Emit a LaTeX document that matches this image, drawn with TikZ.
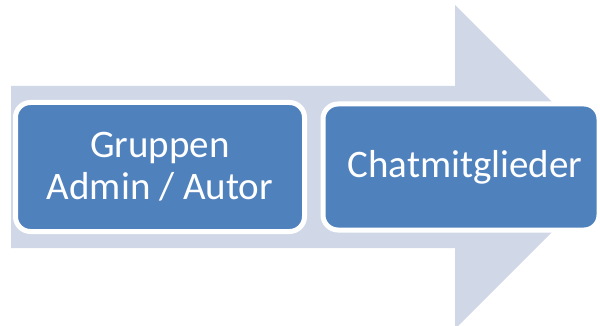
\documentclass[tikz,border=0pt]{standalone}
\usepackage{fontspec}
\setmainfont{Carlito}
\definecolor{arrowfill}{HTML}{D0D8E8}
\definecolor{boxblue}{HTML}{4F81BD}
\tikzset{
  stagebox/.style={draw=white, line width=5pt, fill=boxblue, rounded corners=15pt,
    inner sep=0pt, align=center, text=white,
    font=\fontsize{39pt}{42pt}\selectfont},
}
\begin{document}
\begin{tikzpicture}[x=1pt,y=-1pt]
\useasboundingbox (0,0) rectangle (600,326);
\clip (0,0) rectangle (600,326);
\fill[arrowfill] (11,86) -- (455,86) -- (455,5) -- (617,167) -- (455,329) -- (455,248) -- (11,248) -- cycle;
\node[stagebox, minimum width=289pt, minimum height=129pt] (admin) at (160,167) {Gruppen\\Admin / Autor};
\node[stagebox, minimum width=276pt, minimum height=126pt] (chat) at (461,167) {\hspace*{8pt}\raisebox{-2pt}{Chatmitglieder}};
\end{tikzpicture}
\end{document}
